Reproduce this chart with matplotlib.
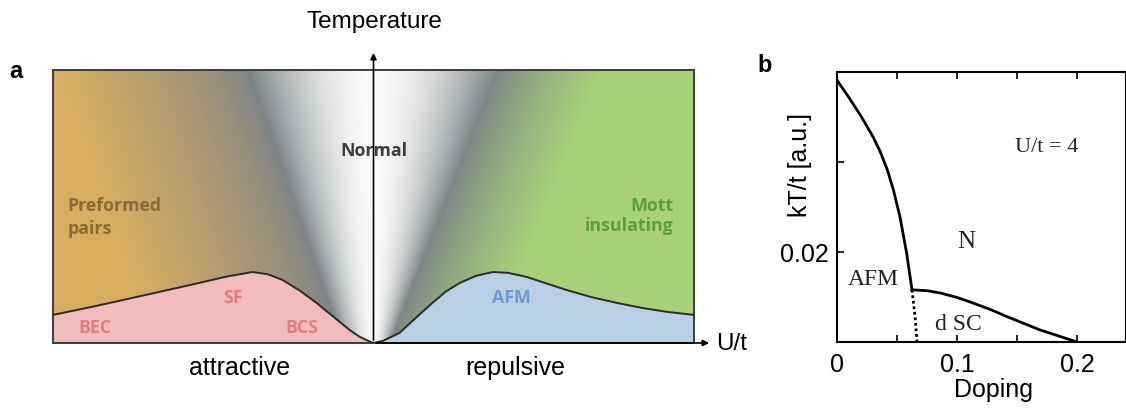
import numpy as np
import matplotlib
matplotlib.use("Agg")
import matplotlib.pyplot as plt

plt.rcParams['font.family'] = ['Liberation Sans', 'DejaVu Sans']

# ---- panel a: schematic boundaries (u = U/t scaled to [-1, 1], T scaled to [0, 1]) ----
sf_u = [-1.0, -0.88, -0.753, -0.65, -0.544, -0.46, -0.378, -0.33, -0.284, -0.23, -0.178,
        -0.125, -0.075, -0.045, -0.022, 0.0]
sf_T = [0.103, 0.132, 0.165, 0.192, 0.220, 0.243, 0.260, 0.252, 0.231, 0.192, 0.147,
        0.096, 0.048, 0.024, 0.011, 0.0]
afm_u = [0.0, 0.03, 0.081, 0.13, 0.184, 0.225, 0.269, 0.32, 0.372, 0.42, 0.478, 0.54,
         0.603, 0.68, 0.759, 0.84, 0.916, 1.0]
afm_T = [0.0, 0.008, 0.037, 0.09, 0.147, 0.188, 0.220, 0.246, 0.260, 0.257, 0.242, 0.218,
         0.194, 0.168, 0.147, 0.128, 0.114, 0.103]

# ---- panel b: Hubbard model phase diagram ----
afm_dop = [0, 0.010, 0.020, 0.030, 0.036, 0.042, 0.047, 0.0525, 0.058, 0.0625]
afm_kT = [0.0582, 0.0543, 0.0502, 0.0456, 0.0423, 0.0382, 0.0338, 0.0278, 0.0198, 0.0116]
dsc_dop = [0.0625, 0.075, 0.086, 0.100, 0.113, 0.128, 0.142, 0.156, 0.169, 0.184, 0.200]
dsc_kT = [0.0116, 0.0114, 0.0109, 0.0099, 0.0087, 0.0072, 0.0056, 0.0041, 0.0027, 0.0014, 0.0]
afm_edge_dop = [0.0625, 0.0650, 0.0667]
afm_edge_kT = [0.0116, 0.0058, 0.0]

W, H = 1126, 408
fig = plt.figure(figsize=(W / 100, H / 100), dpi=100)


def fx(x):
    return x / W


def fy(y):
    return 1 - y / H


# ---------------- panel a ----------------
ax = fig.add_axes([fx(53), fy(343), fx(694) - fx(53), fy(70) - fy(343)])

# shaded background: white "normal" cone around the T axis, tan on the left, green on the right
nu, nt = 640, 280
uu, tt = np.meshgrid(np.linspace(-1, 1, nu), np.linspace(0, 1, nt))
left = uu < 0
ub = np.where(left, 0.096 + 0.294 * tt, 0.052 + 0.338 * tt)
a = np.abs(uu)
s = np.clip(a / ub, 0, 1)
white = np.array([0.985, 0.985, 0.985])
band = np.array([0.49, 0.52, 0.53])
tan = np.array([0.85, 0.68, 0.38])
green = np.array([0.66, 0.82, 0.48])
w = np.where(left, 0.60, 0.32)
t_out = np.clip((a - ub) / w, 0, 1) ** 0.75
k_in = s ** 1.7
side = np.where(left[..., None], tan, green)
inside_col = white * (1 - k_in[..., None]) + band * k_in[..., None]
outside_col = band * (1 - t_out[..., None]) + side * t_out[..., None]
img = np.where((a <= ub)[..., None], inside_col, outside_col)
ax.imshow(img, extent=[-1, 1, 0, 1], origin='lower', aspect='auto', interpolation='bilinear')

ax.fill_between(sf_u, 0, sf_T, color='#f2bcbc', zorder=2, lw=0)
ax.fill_between(afm_u, 0, afm_T, color='#bacfe3', zorder=2, lw=0)
ax.plot(sf_u, sf_T, color='#2a2a2a', lw=1.4, zorder=3)
ax.plot(afm_u, afm_T, color='#2a2a2a', lw=1.4, zorder=3)

ax.set_xlim(-1, 1)
ax.set_ylim(0, 1)
ax.set_xticks([])
ax.set_yticks([])
for sp in ax.spines.values():
    sp.set_color('#3c3c3c')
    sp.set_linewidth(1.4)

lab = dict(family=['Open Sans', 'DejaVu Sans'], weight='bold', fontsize=12.8)
ax.text(0, 0.703, 'Normal', color='#3d3d3d', ha='center', va='center', zorder=1.5, **lab)
ax.text(-0.955, 0.46, 'Preformed\npairs', color='#8c6a38', ha='left', va='center',
        linespacing=1.35, **lab)
ax.text(0.935, 0.465, 'Mott\ninsulating', color='#5f9c3f', ha='right', va='center',
        linespacing=1.2, **lab)
ax.text(-0.44, 0.165, 'SF', color='#e07c86', ha='center', va='center', zorder=4, **lab)
ax.text(-0.87, 0.055, 'BEC', color='#e07c86', ha='center', va='center', zorder=4, **lab)
ax.text(-0.225, 0.055, 'BCS', color='#e07c86', ha='center', va='center', zorder=4, **lab)
ax.text(0.43, 0.165, 'AFM', color='#6c9bd0', ha='center', va='center', zorder=4, **lab)

# axes arrows
ax.annotate('', xy=(0, 1.073), xytext=(0, 0), xycoords='data',
            arrowprops=dict(arrowstyle='-|>', color='black', lw=1.2, mutation_scale=9),
            annotation_clip=False, zorder=5)
ax.annotate('', xy=(1.056, 0), xytext=(0, 0), xycoords='data',
            arrowprops=dict(arrowstyle='-|>', color='black', lw=1.2, mutation_scale=9),
            annotation_clip=False, zorder=5)

fig.text(fx(374), fy(22), 'Temperature', ha='center', va='center', fontsize=17.5)
fig.text(fx(716), fy(344), 'U/t', ha='left', va='center', fontsize=17.5)
fig.text(fx(240), fy(368), 'attractive', ha='center', va='center', fontsize=18)
fig.text(fx(515), fy(368), 'repulsive', ha='center', va='center', fontsize=18)
fig.text(fx(16), fy(72), 'a', ha='center', va='center', fontsize=17, weight='bold')

# ---------------- panel b ----------------
bx = fig.add_axes([fx(837), fy(342), 1 - fx(837), fy(72) - fy(342)])
bx.plot(afm_dop, afm_kT, color='black', lw=2)
bx.plot(dsc_dop, dsc_kT, color='black', lw=2)
bx.plot(afm_edge_dop, afm_edge_kT, color='black', lw=2, ls=(0, (1, 1)))
bx.set_xlim(0, (W - 837) / 1200)
bx.set_ylim(0, 0.06)
bx.set_xticks([0, 0.05, 0.1, 0.15, 0.2])
bx.set_xticklabels(['0', '', '0.1', '', '0.2'])
bx.set_yticks([0.02, 0.04])
bx.set_yticklabels(['0.02', ''])
bx.tick_params(direction='in', length=5, width=1.2, labelsize=18, top=True, pad=8)
bx.tick_params(axis='y', pad=6)
for sp in bx.spines.values():
    sp.set_linewidth(1.5)

serif = dict(family=['Liberation Serif', 'DejaVu Serif'], color='#222222')
bx.text(0.175, 0.0433, 'U/t = 4', ha='center', va='center', fontsize=16, **serif)
bx.text(0.108, 0.0222, 'N', ha='center', va='center', fontsize=18, **serif)
bx.text(0.030, 0.0138, 'AFM', ha='center', va='center', fontsize=17, **serif)
bx.text(0.1008, 0.0038, 'd SC', ha='center', va='center', fontsize=17, **serif)

fig.text(fx(800), fy(165), 'kT/t [a.u.]', ha='center', va='center', rotation=90, fontsize=18)
fig.text(fx(993), fy(390), 'Doping', ha='center', va='center', fontsize=18)
fig.text(fx(765), fy(65), 'b', ha='center', va='center', fontsize=17, weight='bold')

fig.savefig('out.png', dpi=100)
